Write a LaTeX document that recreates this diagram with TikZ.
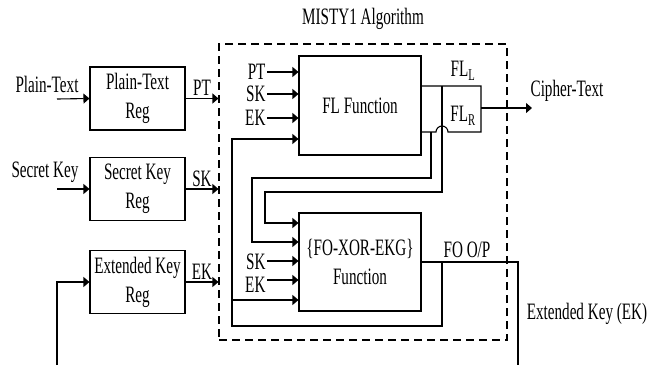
\documentclass[tikz,border=0pt]{standalone}
\usepackage{fontspec}
\setmainfont{Liberation Serif}[FakeStretch=0.645]
\usetikzlibrary{arrows.meta}

\begin{document}
\begin{tikzpicture}[x=1pt,y=-1pt,line width=1.1pt,>={Triangle[length=6pt,width=10pt]},
  font=\fontsize{23.5}{29}\selectfont,
  reg/.style={draw,minimum width=95pt,minimum height=63pt,align=center,inner sep=0pt},
  fnbox/.style={draw,minimum width=122pt,minimum height=98pt,align=center,inner sep=0pt},
  lbl/.style={inner sep=1pt}]
  \useasboundingbox (0,0) rectangle (658,365);
  % outer frame
  \node[draw,dashed,dash pattern=on 8pt off 5pt,minimum width=288pt,minimum height=296pt,inner sep=0pt]
    (frame) at (363,192) {};
  \node[lbl] (title) at (363,19) {MISTY1 Algorithm};
  % registers
  \node[reg] (ptreg) at (137.5,98.5) {Plain-Text\\Reg};
  \node[reg] (skreg) at (137.5,189) {Secret Key\\Reg};
  \node[reg] (ekreg) at (137.5,282) {Extended Key\\Reg};
  \node[lbl] (ptin) at (47,84) {Plain-Text};
  \node[lbl] (skin) at (45,172) {Secret Key};
  \coordinate (ptsrc) at (57,99);
  \coordinate (sksrc) at (57,189);
  \coordinate (eksrc) at (57,365);
  \draw[->] (ptsrc) -- (ptreg.west);
  \draw[->] (sksrc) -- (skreg.west);
  \draw[->] (eksrc) |- (ekreg.west);
  \draw[->] (ptreg.east) -- (ptreg.east -| frame.west) node[lbl,midway,above=1pt] {PT};
  \draw[->] (skreg.east) -- (skreg.east -| frame.west) node[lbl,midway,above=1pt] {SK};
  \draw[->] (ekreg.east) -- (ekreg.east -| frame.west) node[lbl,midway,above=1pt] {EK};
  % function blocks
  \node[fnbox,minimum height=99pt] (flfn) at (360,105.5) {FL Function};
  \node[fnbox] (fofn) at (360,262) {\{FO-XOR-EKG\}\\Function};
  \node[lbl,anchor=east] (flpt) at (267,72) {PT};
  \node[lbl,anchor=east] (flsk) at (267,94) {SK};
  \node[lbl,anchor=east] (flek) at (267,118) {EK};
  \node[lbl,anchor=east] (fosk) at (267,262) {SK};
  \node[lbl,anchor=east] (foek) at (267,285) {EK};
  \draw[->] (flpt.east) -- (flpt.east -| flfn.west);
  \draw[->] (flsk.east) -- (flsk.east -| flfn.west);
  \draw[->] (flek.east) -- (flek.east -| flfn.west);
  \draw[->] (fosk.east |- 0,261) -- (fofn.west |- 0,261);
  \draw[->] (foek.east |- 0,280) -- (fofn.west |- 0,280);
  % FL outputs
  \coordinate (tapL) at (442,86);
  \coordinate (tapR) at (431,132);
  \coordinate (flo) at (481,108);
  \coordinate (ctout) at (532,108);
  \draw (flfn.east |- tapL) -- (481,86) -- (481,132) -- (448,132)
    arc[start angle=0,end angle=-180,radius=6] -- (flfn.east |- tapR);
  \node[lbl] (fll) at (463,71) {FL\textsubscript{L}};
  \node[lbl] (flr) at (463,116) {FL\textsubscript{R}};
  \draw[->] (flo) -- (ctout);
  \node[lbl] (cipher) at (567,91) {Cipher-Text};
  \draw[->] (tapL) -- (442,192) -| (265,223) -- (fofn.west |- 0,223);
  \draw[->] (tapR) -- (431,178) -| (252,242) -- (fofn.west |- 0,242);
  % FO output and feedback
  \coordinate (fotap) at (442,262);
  \coordinate (ekout) at (518,365);
  \draw (fofn.east) -| (ekout);
  \node[lbl] (foop) at (467,250) {FO O/P};
  \node[lbl] (ekfb) at (587,314) {Extended Key (EK)};
  \draw[->] (fotap) |- (232,326) |- (flfn.west |- 0,139);
  \draw[->] (232,300) -- (fofn.west |- 0,300);
\end{tikzpicture}
\end{document}
